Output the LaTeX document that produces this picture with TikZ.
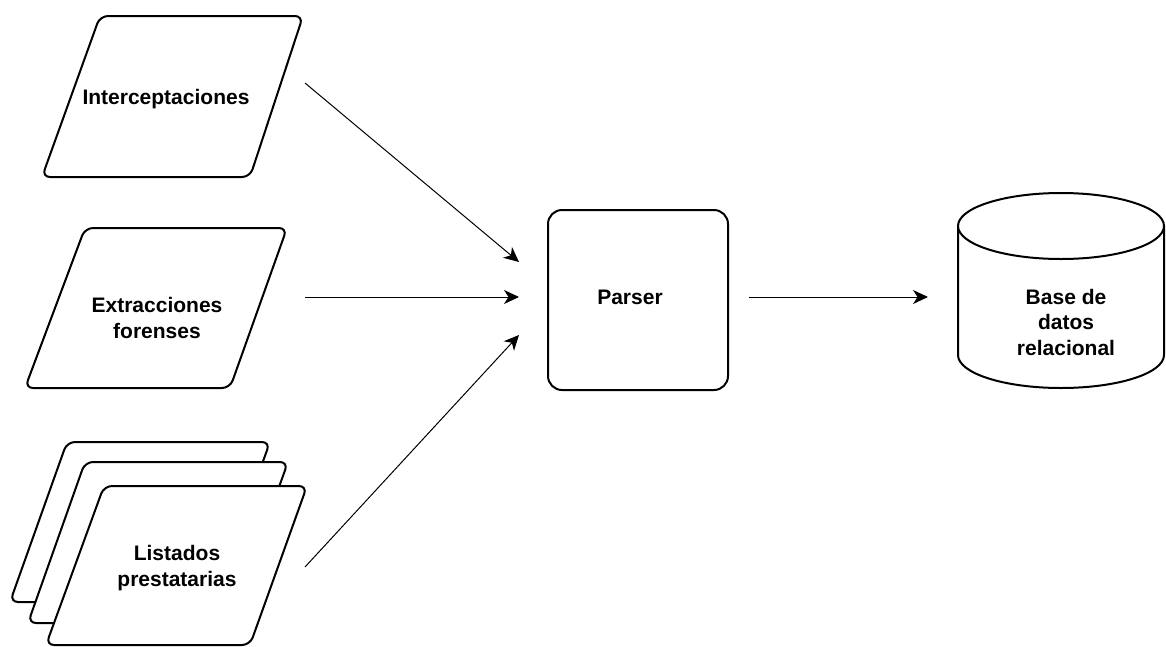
\documentclass[tikz,border=0pt]{standalone}
\usepackage{fontspec}
\setmainfont{Liberation Sans}
\usetikzlibrary{arrows.meta}
\begin{document}
\begin{tikzpicture}[x=1pt,y=-1pt,
    shapeline/.style={draw,line width=2pt,rounded corners=8pt,fill=white},
    boxtext/.style={font=\bfseries\fontsize{21}{25.5}\selectfont,align=center},
    flow/.style={-{Stealth[length=15pt,width=14pt,inset=4.5pt]},line width=1pt}]
  \useasboundingbox (0,0) rectangle (1166,646);
  \draw[shapeline] (100,16) -- (303,16) -- (250,177) -- (42,177) -- cycle;
  \node[boxtext] (interc) at (166,99) {Interceptaciones};
  \draw[shapeline] (85,228) -- (287,228) -- (230,388) -- (25,388) -- cycle;
  \node[boxtext] (extrac) at (157,318) {Extracciones\\forenses};
  \draw[shapeline] (67,442) -- (270,442) -- (212,602) -- (10,602) -- cycle;
  \draw[shapeline] (85,462) -- (288,462) -- (230,623) -- (28,623) -- cycle;
  \draw[shapeline] (104,486) -- (307,486) -- (250,645) -- (46,645) -- cycle;
  \node[boxtext] (listados) at (177,568) {Listados\\prestatarias};
  \draw[shapeline,rounded corners=14pt] (548,210) rectangle (728,390);
  \node[boxtext] (parser) at (630,297) {Parser};
  \draw[shapeline,rounded corners=0pt] (958,226) -- (958,355)
    arc[start angle=180,end angle=0,x radius=103,y radius=33] -- (1164,226);
  \draw[shapeline] (1061,226) ellipse[x radius=103,y radius=33];
  \node[boxtext] (db) at (1066,322) {Base de\\datos\\relacional};
  \coordinate (interc-out) at (305,83);
  \coordinate (extrac-out) at (305,297);
  \coordinate (listados-out) at (305,567);
  \coordinate (parser-in1) at (519,262);
  \coordinate (parser-in2) at (519,297);
  \coordinate (parser-in3) at (519,335);
  \coordinate (parser-out) at (749,297);
  \coordinate (db-in) at (928,297);
  \draw[flow] (interc-out) -- (parser-in1);
  \draw[flow] (extrac-out) -- (parser-in2);
  \draw[flow] (listados-out) -- (parser-in3);
  \draw[flow] (parser-out) -- (db-in);
\end{tikzpicture}
\end{document}
